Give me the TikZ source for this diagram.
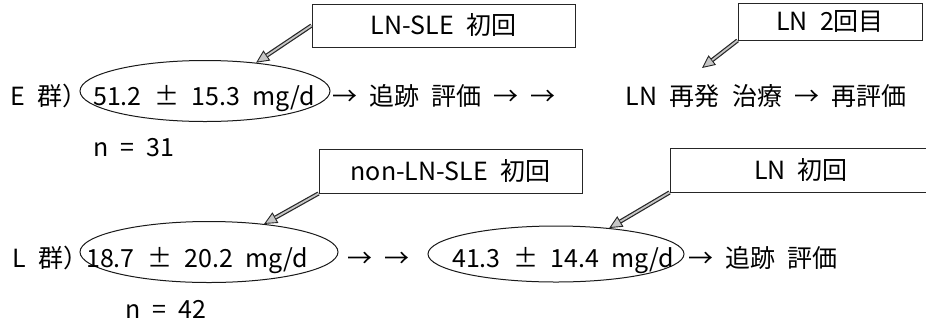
\documentclass[tikz,border=0pt]{standalone}
\usepackage{fontspec}
\setmainfont{Noto Sans CJK JP}[WordSpace=2.2]
\usetikzlibrary{arrows.meta,shapes.geometric}

\begin{document}
\begin{tikzpicture}[x=1pt,y=-1pt,
  every node/.style={inner sep=0pt, font=\fontsize{25}{30}\selectfont},
  lbl/.style={anchor=base west},
  tagbox/.style={draw=black!85, line width=0.9pt},
  oval/.style={ellipse, draw=black!90, line width=1pt, inner sep=0pt},
  callout/.style={draw=black!85, line width=4.2pt,
    -{Triangle[length=13pt,width=12pt,fill=gray!45,line width=0.9pt]},
    postaction={draw=gray!45, line width=1.8pt, -, shorten >=13pt}}]

\clip (0,0) rectangle (926,325);
\fill[white] (0,0) rectangle (926,325);

% ---------- E group ----------
\node[lbl] (gE) at (10,105) {E 群）};
\node[oval, minimum width=250pt, minimum height=61pt] (e1) at (205,91) {};
\node[lbl] (v1) at (93,105) {51.2 ± 15.3 mg/d};
\node[lbl] (r1) at (332,105) {→ 追跡 評価};
\node[lbl] (r2) at (493,105) {→ →};
\node[anchor=base east] (r3) at (907,105) {LN 再発 治療 → 再評価};
\node[lbl] (n1) at (93,156) {n = 31};

\node[tagbox, minimum width=263pt, minimum height=43pt] (b1) at (443.5,25.5) {LN-SLE 初回};
\node[tagbox, minimum width=184pt, minimum height=37pt] (b2) at (830,21.5) {LN 2回目};
\coordinate (t2) at (702,68);

% ---------- L group ----------
\node[lbl] (gL) at (12,267) {L 群）};
\node[oval, minimum width=258pt, minimum height=61pt] (e2) at (209,252) {};
\node[lbl] (v2) at (86,267) {18.7 ± 20.2 mg/d};
\node[lbl] (s1) at (347,267) {→ →};
\node[oval, minimum width=256pt, minimum height=56pt] (e3) at (556,254) {};
\node[lbl] (v3) at (452,267) {41.3 ± 14.4 mg/d};
\node[lbl] (s2) at (688,267) {→ 追跡 評価};
\node[lbl] (n2) at (125,318) {n = 42};

\node[tagbox, minimum width=263pt, minimum height=44pt] (b3) at (450.5,171) {non-LN-SLE 初回};
\node[tagbox, minimum width=262pt, minimum height=44pt] (b4) at (801,170) {LN 初回};

% ---------- pointers from the tags ----------
\draw[callout] (b1.west) -- (e1.29);
\draw[callout] (b2.south west) -- (t2);
\draw[callout] (b3.south west) -- (e2.27);
\draw[callout] (b4.south west) -- (e3.26);
\end{tikzpicture}
\end{document}
